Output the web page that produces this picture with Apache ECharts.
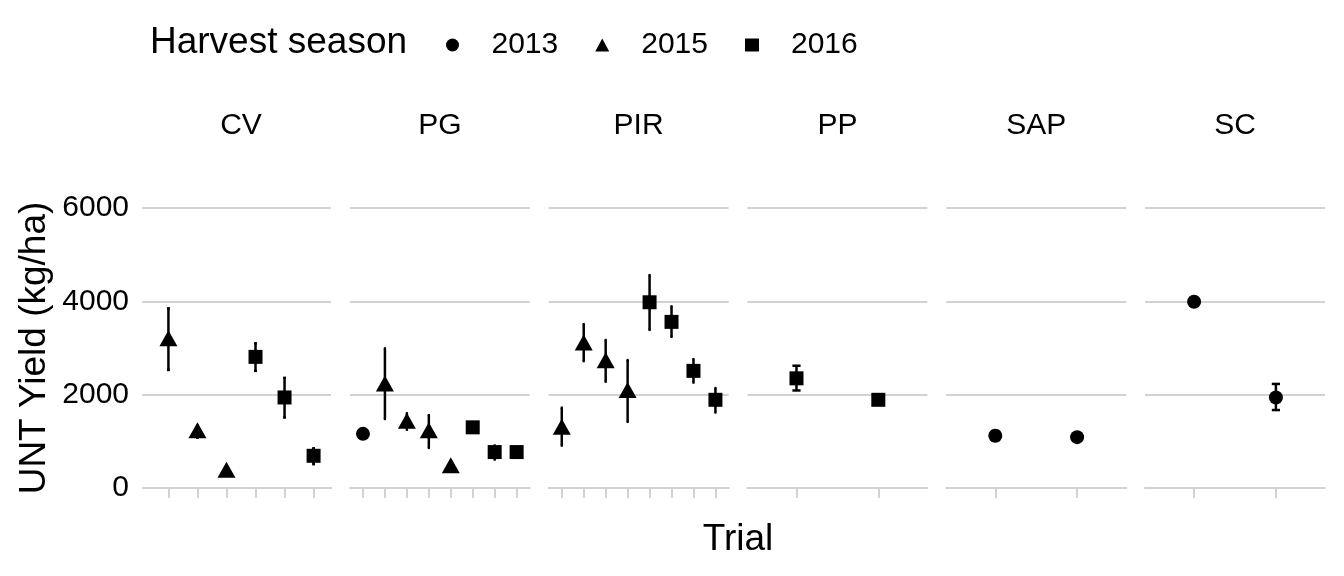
<!DOCTYPE html>
<html>
<head>
<meta charset="utf-8">
<script src="https://cdn.jsdelivr.net/npm/echarts@6/dist/echarts.min.js"></script>
<style>
html,body{margin:0;padding:0;background:#fff;}
#chart{width:1344px;height:576px;}
</style>
</head>
<body>
<div id="chart"></div>
<script>
// ---- data ----
const panels = ['CV', 'PG', 'PIR', 'PP', 'SAP', 'SC'];
const seasons = ['2013', '2015', '2016'];
const yTicks = [0, 2000, 4000, 6000];

const trialsCV  = ['CV-1', 'CV-2', 'CV-3', 'CV-4', 'CV-5', 'CV-6'];
const yearCV    = ['2015', '2015', '2015', '2016', '2016', '2016'];
const meanCV    = [3210, 1240, 390, 2810, 1940, 690];
const loCV      = [2530, 1080, 340, 2510, 1510, 510];
const hiCV      = [3850, 1330, 440, 3100, 2360, 850];

const trialsPG  = ['PG-1', 'PG-2', 'PG-3', 'PG-4', 'PG-5', 'PG-6', 'PG-7', 'PG-8'];
const yearPG    = ['2013', '2015', '2015', '2015', '2015', '2016', '2016', '2016'];
const meanPG    = [1160, 2240, 1440, 1240, 490, 1300, 770, 770];
const loPG      = [1110, 1480, 1250, 860, 440, 1250, 610, 720];
const hiPG      = [1210, 2990, 1600, 1560, 540, 1350, 910, 820];

const trialsPIR = ['PIR-1', 'PIR-2', 'PIR-3', 'PIR-4', 'PIR-5', 'PIR-6', 'PIR-7', 'PIR-8'];
const yearPIR   = ['2015', '2015', '2015', '2015', '2016', '2016', '2016', '2016'];
const meanPIR   = [1310, 3120, 2740, 2100, 3980, 3560, 2510, 1890];
const loPIR     = [910, 2720, 2280, 1420, 3390, 3240, 2260, 1620];
const hiPIR     = [1720, 3510, 3170, 2740, 4560, 3890, 2760, 2140];

const trialsPP  = ['PP-1', 'PP-2'];
const yearPP    = ['2016', '2016'];
const meanPP    = [2350, 1890];
const loPP      = [2090, 1840];
const hiPP      = [2620, 1940];

const trialsSAP = ['SAP-1', 'SAP-2'];
const yearSAP   = ['2013', '2013'];
const meanSAP   = [1120, 1090];
const loSAP     = [1020, 1040];
const hiSAP     = [1220, 1140];

const trialsSC  = ['SC-1', 'SC-2'];
const yearSC    = ['2013', '2013'];
const meanSC    = [3990, 1940];
const loSC      = [3940, 1670];
const hiSC      = [4040, 2230];

// ---- build ----
const panelData = [
  [trialsCV, yearCV, meanCV, loCV, hiCV],
  [trialsPG, yearPG, meanPG, loPG, hiPG],
  [trialsPIR, yearPIR, meanPIR, loPIR, hiPIR],
  [trialsPP, yearPP, meanPP, loPP, hiPP],
  [trialsSAP, yearSAP, meanSAP, loSAP, hiSAP],
  [trialsSC, yearSC, meanSC, loSC, hiSC]
];

const GRID_LINE = '#d2d2d2';
const TXT = '#000';
const FONT = 'Liberation Sans, Arial, Helvetica, sans-serif';
const PANEL_W = 180, PANEL_STEP = 198.8, PANEL_L0 = 151, TOP = 208, H = 280;

const symbolFor = {'2013': 'circle', '2015': 'triangle', '2016': 'rect'};
const sizeFor = {'2013': 14, '2015': [18, 16], '2016': 14};

const grids = [], xAxes = [], yAxes = [], series = [], graphics = [];

panelData.forEach((pd, p) => {
  const [trials, years, means, los, his] = pd;
  const n = trials.length;
  const left = PANEL_L0 + p * PANEL_STEP;
  grids.push({left: left, top: TOP, width: PANEL_W, height: H});
  const ticks = trials.map((t, i) => i + 1);
  xAxes.push({
    gridIndex: p, type: 'value', min: 0.4, max: n + 0.6,
    offset: 15,
    axisLine: {show: true, lineStyle: {color: GRID_LINE, width: 2}},
    axisTick: {show: true, length: 10, customValues: ticks, lineStyle: {color: GRID_LINE, width: 2}},
    axisLabel: {show: false},
    splitLine: {show: false}
  });
  yAxes.push({
    gridIndex: p, type: 'value', min: 0, max: 6000, interval: 2000,
    axisLine: {show: false},
    axisTick: {show: p === 0, length: 9, lineStyle: {color: GRID_LINE, width: 2}},
    axisLabel: {show: p === 0, margin: 22, color: TXT, fontSize: 30, fontFamily: FONT,
      customValues: yTicks, formatter: v => String(v)},
    splitLine: {show: true, lineStyle: {color: GRID_LINE, width: 2}}
  });
  // error bars
  series.push({
    type: 'custom', name: 'err' + p, xAxisIndex: p, yAxisIndex: p, silent: true, clip: false,
    encode: {x: 0, y: [1, 2]},
    data: trials.map((t, i) => [i + 1, los[i], his[i]]),
    renderItem: function (params, api) {
      const x = api.value(0);
      const a = api.coord([x, api.value(1)]);
      const b = api.coord([x, api.value(2)]);
      const hw = api.size([0.1, 0])[0] / 2;
      const st = {stroke: '#000', lineWidth: 2.5};
      return {type: 'group', children: [
        {type: 'line', shape: {x1: a[0], y1: a[1], x2: b[0], y2: b[1]}, style: st},
        {type: 'line', shape: {x1: a[0] - hw, y1: a[1], x2: a[0] + hw, y2: a[1]}, style: st},
        {type: 'line', shape: {x1: b[0] - hw, y1: b[1], x2: b[0] + hw, y2: b[1]}, style: st}
      ]};
    },
    z: 2
  });
  seasons.forEach(s => {
    const d = [];
    years.forEach((y, i) => { if (y === s) d.push([i + 1, means[i]]); });
    if (!d.length) return;
    series.push({
      type: 'scatter', name: s, xAxisIndex: p, yAxisIndex: p,
      symbol: symbolFor[s], symbolSize: sizeFor[s],
      itemStyle: {color: '#000', opacity: 1},
      data: d, z: 3, silent: true
    });
  });
  graphics.push({
    type: 'text', x: left + PANEL_W / 2, y: 126,
    style: {text: panels[p], fill: TXT, font: '30px ' + FONT, textAlign: 'center', textVerticalAlign: 'middle'}
  });
});

graphics.push({
  type: 'text', x: 35, y: 348, rotation: Math.PI / 2,
  style: {text: 'UNT Yield (kg/ha)', fill: TXT, font: '37px ' + FONT, textAlign: 'center', textVerticalAlign: 'middle'}
});
graphics.push({
  type: 'text', x: 738, y: 540,
  style: {text: 'Trial', fill: TXT, font: '37px ' + FONT, textAlign: 'center', textVerticalAlign: 'middle'}
});
graphics.push({
  type: 'text', x: 150, y: 43,
  style: {text: 'Harvest season', fill: TXT, font: '37px ' + FONT, textAlign: 'left', textVerticalAlign: 'middle'}
});

const chart = echarts.init(document.getElementById('chart'), null, {renderer: 'canvas'});
chart.setOption({
  backgroundColor: '#fff',
  animation: false,
  grid: grids,
  xAxis: xAxes,
  yAxis: yAxes,
  legend: {
    left: 441, top: 25,
    itemWidth: 14, itemHeight: 13, itemGap: 37,
    data: [
      {name: '2013', icon: 'circle'},
      {name: '2015', icon: 'triangle'},
      {name: '2016', icon: 'rect'}
    ],
    textStyle: {color: TXT, fontSize: 30, fontFamily: FONT, lineHeight: 30, padding: [0, 0, 0, 27]},
    selectedMode: false
  },
  graphic: graphics,
  series: series
});
</script>
</body>
</html>
